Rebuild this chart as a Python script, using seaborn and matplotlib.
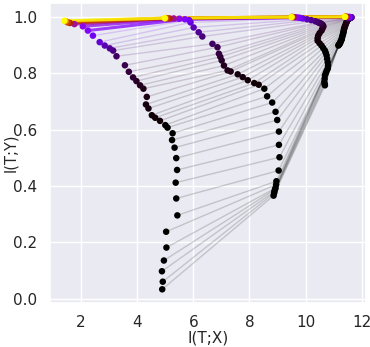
import numpy as np
import pandas as pd
import matplotlib
matplotlib.use("Agg")
import matplotlib.pyplot as plt
import seaborn as sns
from matplotlib.colors import Normalize

# training epochs at which the information plane was sampled
epochs = [1, 2, 3, 4, 5, 6, 7, 8, 9, 10, 12, 14, 16, 20, 25, 32, 40, 50, 63, 79,
          100, 126, 158, 200, 251, 316, 398, 501, 631, 794, 1000, 1259, 1585, 1995,
          2512, 3162, 3981, 5012, 6310, 7943, 9999]

# layer 1 (widest / closest to input)
l1_x = [11.17, 11.18, 11.20, 11.21, 11.23, 11.24, 11.26, 11.28, 11.29, 11.30, 11.31,
        11.33, 11.34, 11.35, 11.36, 11.37, 11.38, 11.40, 11.41, 11.43, 11.45, 11.47,
        11.48, 11.50, 11.52, 11.55, 11.58, 11.60, 11.62, 11.63, 11.64, 11.62, 11.58,
        11.55, 11.52, 11.49, 11.46, 11.44, 11.42, 11.41, 11.40]
l1_y = [0.898, 0.900, 0.902, 0.904, 0.906, 0.910, 0.914, 0.918, 0.921, 0.926, 0.931,
        0.936, 0.941, 0.945, 0.950, 0.955, 0.960, 0.964, 0.968, 0.973, 0.978, 0.982,
        0.986, 0.989, 0.991, 0.993, 0.995, 0.996, 0.997, 0.998, 0.998, 0.998, 0.999,
        0.999, 0.999, 0.999, 0.999, 1.000, 1.000, 1.000, 1.000]
# layer 2
l2_x = [10.69, 10.68, 10.67, 10.68, 10.69, 10.72, 10.75, 10.79, 10.80, 10.79, 10.77,
        10.75, 10.72, 10.69, 10.63, 10.57, 10.50, 10.43, 10.43, 10.45, 10.50, 10.57,
        10.60, 10.63, 10.63, 10.60, 10.55, 10.50, 10.45, 10.35, 10.20, 10.05, 9.90,
        9.80, 9.73, 9.65, 9.60, 9.55, 9.52, 9.50, 9.50]
l2_y = [0.757, 0.762, 0.769, 0.780, 0.792, 0.800, 0.808, 0.816, 0.827, 0.839, 0.851,
        0.863, 0.872, 0.880, 0.889, 0.898, 0.906, 0.915, 0.924, 0.933, 0.942, 0.951,
        0.958, 0.964, 0.968, 0.972, 0.976, 0.978, 0.980, 0.984, 0.988, 0.991, 0.994,
        0.996, 0.997, 0.998, 0.998, 0.999, 0.999, 0.999, 0.999]
# layer 3
l3_x = [8.86, 8.88, 8.89, 8.91, 8.93, 8.95, 8.96, 9.04, 9.07, 9.05, 9.05, 8.99, 8.93,
        8.81, 8.63, 8.53, 8.33, 8.17, 7.94, 7.76, 7.58, 7.33, 7.22, 7.09, 7.01, 6.96,
        6.91, 6.86, 6.68, 6.32, 6.19, 6.01, 5.90, 5.85, 5.70, 5.50, 5.30, 5.15, 5.05,
        5.00, 4.98]
l3_y = [0.366, 0.375, 0.381, 0.388, 0.393, 0.405, 0.417, 0.455, 0.502, 0.546, 0.593,
        0.634, 0.663, 0.696, 0.718, 0.745, 0.759, 0.765, 0.775, 0.786, 0.796, 0.806,
        0.810, 0.827, 0.845, 0.858, 0.869, 0.892, 0.904, 0.930, 0.945, 0.962, 0.980,
        0.988, 0.991, 0.993, 0.994, 0.994, 0.995, 0.995, 0.995]
# layer 4 (output side)
l4_x = [4.89, 4.91, 4.88, 4.95, 5.04, 5.03, 5.43, 5.39, 5.37, 5.42, 5.39, 5.33, 5.24,
        5.26, 5.08, 5.00, 4.81, 4.64, 4.52, 4.40, 4.31, 4.34, 4.22, 4.10, 3.97, 3.85,
        3.70, 3.56, 3.26, 3.14, 3.02, 2.84, 2.66, 2.42, 2.24, 2.06, 1.76, 1.60, 1.52,
        1.45, 1.40]
l4_y = [0.034, 0.061, 0.098, 0.136, 0.182, 0.238, 0.296, 0.356, 0.412, 0.457, 0.499,
        0.536, 0.563, 0.587, 0.607, 0.616, 0.631, 0.642, 0.651, 0.675, 0.689, 0.716,
        0.745, 0.757, 0.772, 0.785, 0.805, 0.828, 0.860, 0.880, 0.888, 0.898, 0.910,
        0.933, 0.951, 0.966, 0.974, 0.978, 0.980, 0.984, 0.986]

rows = []
for i, ep in enumerate(epochs):
    for layer, (xs, ys) in enumerate([(l1_x, l1_y), (l2_x, l2_y), (l3_x, l3_y), (l4_x, l4_y)]):
        rows.append({"epoch": ep, "layer": layer, "I(T;X)": xs[i], "I(T;Y)": ys[i]})
df = pd.DataFrame(rows)

sns.set_theme(style="darkgrid")
plt.rcParams["font.family"] = ["DejaVu Sans"]

fig = plt.figure(figsize=(3.7, 3.47), dpi=100)
ax = fig.add_axes([0.135, 0.127, 0.854, 0.864])

norm = Normalize(vmin=0, vmax=max(epochs))
early = df[df["epoch"] < 2000]
late = df[df["epoch"] >= 2000]
sns.lineplot(data=early, x="I(T;X)", y="I(T;Y)", hue="epoch", units="epoch",
             estimator=None, sort=False, palette="gnuplot", hue_norm=norm,
             alpha=0.17, linewidth=1.0, legend=False, ax=ax)
sns.lineplot(data=late, x="I(T;X)", y="I(T;Y)", hue="epoch", units="epoch",
             estimator=None, sort=False, palette="gnuplot", hue_norm=norm,
             alpha=0.75, linewidth=2.2, legend=False, ax=ax)
sns.scatterplot(data=df.sort_values("epoch", kind="stable"), x="I(T;X)", y="I(T;Y)",
                hue="epoch", palette="gnuplot", hue_norm=norm, s=22, linewidth=0,
                legend=False, ax=ax, zorder=3)

ax.set_xticks([2, 4, 6, 8, 10, 12])
ax.set_yticks([0.0, 0.2, 0.4, 0.6, 0.8, 1.0])
ax.tick_params(axis="both", labelsize=11, pad=3)
ax.set_xlabel("I(T;X)", fontsize=11, labelpad=0)
ax.set_ylabel("I(T;Y)", fontsize=10.5)
ax.yaxis.set_label_coords(-0.1, 0.5)

fig.savefig("out.png", dpi=100)
